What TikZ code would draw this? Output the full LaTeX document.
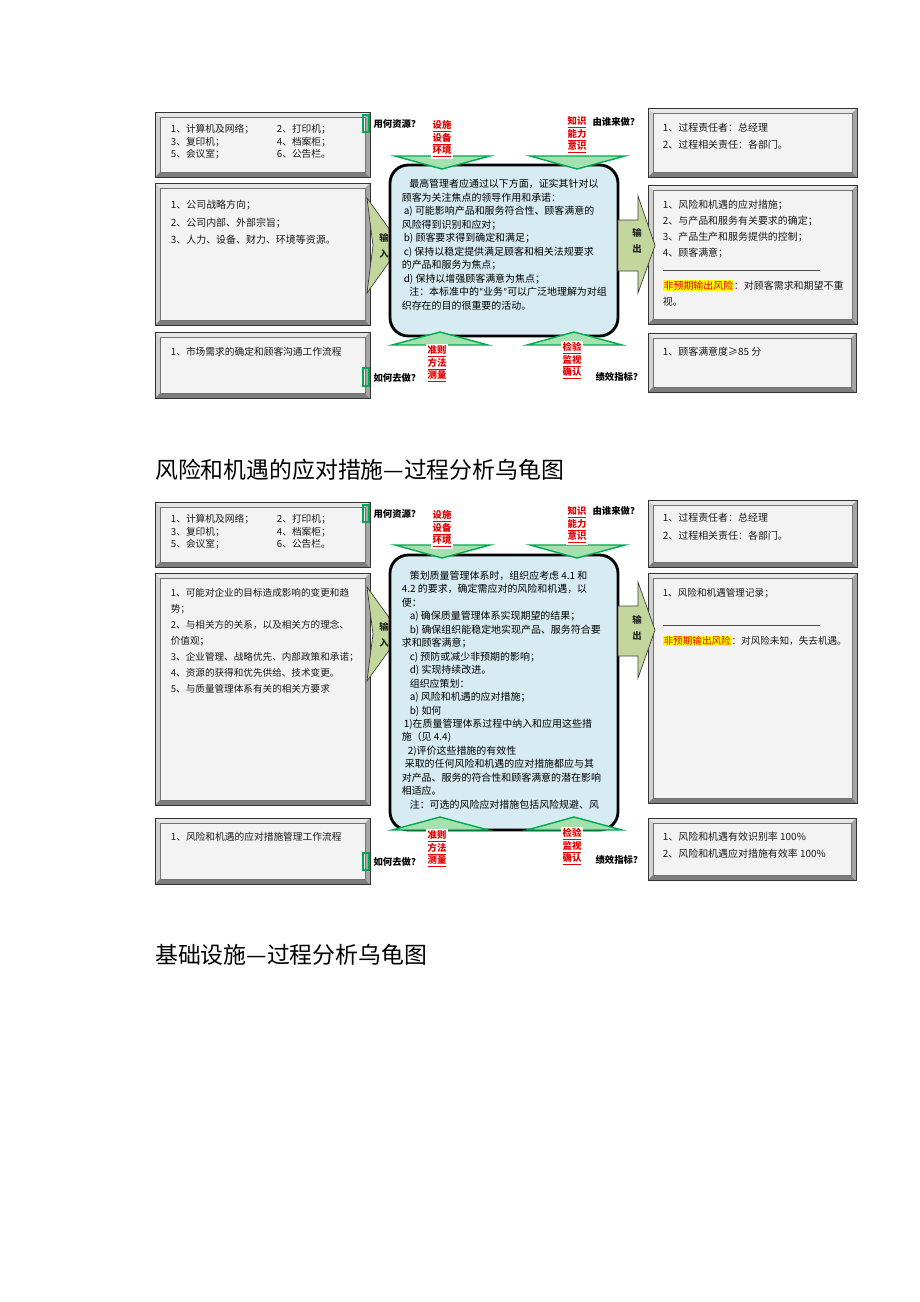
\documentclass[tikz,border=0pt]{standalone}
\usepackage{fontspec}
\setmainfont{Noto Sans CJK SC}
\newfontfamily\quotefont{Carlito}
\usetikzlibrary{positioning}
\usetikzlibrary{calc}

\definecolor{panelfill}{RGB}{243,243,243}
\definecolor{bevtop}{RGB}{230,230,230}
\definecolor{bevleft}{RGB}{208,208,208}
\definecolor{bevright}{RGB}{165,165,165}
\definecolor{bevbottom}{RGB}{125,125,125}
\definecolor{procfill}{RGB}{214,235,242}
\definecolor{ioarrow}{RGB}{195,214,155}
\definecolor{triline}{RGB}{0,170,80}
\definecolor{trifill}{RGB}{165,225,175}
\definecolor{labelred}{RGB}{230,0,0}
\definecolor{markyellow}{RGB}{255,255,0}

\newcommand{\riskmark}[1]{{\setlength{\fboxsep}{0.6pt}\colorbox{markyellow}{\textcolor{labelred}{#1}}}}

\begin{document}
\begin{tikzpicture}
	[x=0.03cm,y=-0.03cm,
	panel/.style={draw=black!80,fill=panelfill,line width=0.6pt,inner sep=0pt,
		path picture={
			\fill[bevtop] (path picture bounding box.north west) -- (path picture bounding box.north east)
				-- ([shift={(-0.15cm,-0.15cm)}]path picture bounding box.north east)
				-- ([shift={(0.15cm,-0.15cm)}]path picture bounding box.north west) -- cycle;
			\fill[bevleft] (path picture bounding box.north west) -- (path picture bounding box.south west)
				-- ([shift={(0.15cm,0.15cm)}]path picture bounding box.south west)
				-- ([shift={(0.15cm,-0.15cm)}]path picture bounding box.north west) -- cycle;
			\fill[bevbottom] (path picture bounding box.south west) -- (path picture bounding box.south east)
				-- ([shift={(-0.15cm,0.15cm)}]path picture bounding box.south east)
				-- ([shift={(0.15cm,0.15cm)}]path picture bounding box.south west) -- cycle;
			\fill[bevright] (path picture bounding box.north east) -- (path picture bounding box.south east)
				-- ([shift={(-0.15cm,0.15cm)}]path picture bounding box.south east)
				-- ([shift={(-0.15cm,-0.15cm)}]path picture bounding box.north east) -- cycle;
			\draw[black!55,line width=0.4pt] ([shift={(0.15cm,0.15cm)}]path picture bounding box.south west)
				rectangle ([shift={(-0.15cm,-0.15cm)}]path picture bounding box.north east);
		}},
	process/.style={draw=black,line width=2.4pt,fill=procfill,rounded corners=0.55cm,inner sep=0pt},
	ioshape/.style={draw=black!75,line width=0.6pt,fill=ioarrow},
	iotext/.style={font=\fontsize{8}{14}\selectfont\bfseries,align=center,inner sep=0pt,text=black!85},
	wedge/.style={draw=triline,line width=1.2pt,fill=trifill},
	factor/.style={font=\fontsize{8}{10.7}\selectfont\bfseries,text=labelred,align=center,fill=white,inner sep=1.5pt},
	question/.style={font=\fontsize{8}{10}\selectfont\bfseries,inner sep=1pt},
	bracket/.style={draw=triline,line width=1pt},
	paneltext/.style={anchor=north west,inner sep=0pt,align=left,text=black!90},
	proctext/.style={anchor=north west,inner sep=0pt,align=left,font=\fontsize{8.5}{11.5}\selectfont},
	heading/.style={anchor=west,inner sep=0pt,font=\fontsize{19.5}{22}\selectfont}]

	\useasboundingbox[fill=white] (0,0) rectangle (920,1302);

	% Draw the panels of the first chart
	\draw node at (262.5,144.5) [panel,minimum width=6.45cm,minimum height=1.95cm](res1){}
		node at (262.5,254) [panel,minimum width=6.45cm,minimum height=4.26cm](in1){}
		node at (262.5,365) [panel,minimum width=6.45cm,minimum height=1.98cm](how1){}
		node at (752.5,142.5) [panel,minimum width=6.27cm,minimum height=2.07cm](who1){}
		node at (752.5,254.5) [panel,minimum width=6.27cm,minimum height=4.17cm](out1){}
		node at (752,362.5) [panel,minimum width=6.24cm,minimum height=1.77cm](kpi1){};

	% Texts in the panels
	\draw node at ($(res1.north west)+(16,12.5)$) [paneltext,font=\fontsize{8.3}{10.7}\selectfont](res1a){1、计算机及网络；\\3、复印机；\\5、会议室；}
		node at ($(res1.north west)+(122,12.5)$) [paneltext,font=\fontsize{8.3}{10.7}\selectfont](res1b){2、打印机；\\4、档案柜；\\6、公告栏。}
		node at ($(in1.north west)+(16,17.5)$) [paneltext,font=\fontsize{8.5}{14.9}\selectfont](in1t){1、公司战略方向；\\2、公司内部、外部宗旨；\\3、人力、设备、财力、环境等资源。}
		node at ($(how1.north west)+(16,15.5)$) [paneltext,font=\fontsize{8.3}{13.7}\selectfont](how1t){1、市场需求的确定和顾客沟通工作流程}
		node at ($(who1.north west)+(15,15)$) [paneltext,font=\fontsize{8.5}{14.9}\selectfont](who1t){1、过程责任者：总经理\\2、过程相关责任：各部门。}
		node at ($(out1.north west)+(15,15.5)$) [paneltext,font=\fontsize{8.5}{13.7}\selectfont](out1t){1、风险和机遇的应对措施；\\2、与产品和服务有关要求的确定；\\3、产品生产和服务提供的控制；\\4、顾客满意；\\\textcolor{black!70}{\rule[2.5pt]{4.71cm}{0.4pt}}\\\riskmark{非预期输出风险}\textcolor{labelred}{：}对顾客需求和期望不重\\视。}
		node at ($(kpi1.north west)+(15,14.5)$) [paneltext,font=\fontsize{8.5}{13.7}\selectfont](kpi1t){1、顾客满意度≥85 分};

	% Draw the input arrow, the process and the output arrow
	\draw[ioshape] (367,198) -- (401,245.5) -- (367,293) -- (373,245.5) -- cycle;
	\draw node at (504,250.5) [process,minimum width=6.84cm,minimum height=5.13cm](proc1){};
	\draw node at ($(proc1.north west)+(13,15.5)$) [proctext](aim1){\hspace*{0.75em}最高管理者应通过以下方面，证实其针对以\\
顾客为关注焦点的领导作用和承诺：\\
\hspace*{0.2em}a) 可能影响产品和服务符合性、顾客满意的\\
风险得到识别和应对；\\
\hspace*{0.2em}b) 顾客要求得到确定和满足；\\
\hspace*{0.2em}c) 保持以稳定提供满足顾客和相关法规要求\\
的产品和服务为焦点；\\
\hspace*{0.2em}d) 保持以增强顾客满意为焦点；\\
\hspace*{0.75em}注：本标准中的{\quotefont “}业务{\quotefont ”}可以广泛地理解为对组\\
织存在的目的很重要的活动。};
	\draw[ioshape] (618,220) -- (638,220) -- (638,196) -- (655,245.5) -- (638,293) -- (638,271) -- (618,271) -- cycle;
	\draw node at (384,246) [iotext](in1arrow){输\\入}
		node at (637,241) [iotext](out1arrow){输\\出};

	% Draw the wedges and their labels
	\draw[wedge] (395,156) -- (490,156) -- (442,169) -- cycle;
	\draw[wedge] (530,156) -- (625,156) -- (577,169) -- cycle;
	\draw[wedge] (392,345) -- (488,345) -- (440,332) -- cycle;
	\draw[wedge] (527,345) -- (622,345) -- (574,332) -- cycle;
	\draw node at (442,139) [factor](fac1){\underline{设施}\\\underline{设备}\\\underline{环境}}
		node at (577,135) [factor](skill1){\underline{知识}\\\underline{能力}\\\underline{意识}}
		node at (437,364) [factor](meth1){\underline{准则}\\\underline{方法}\\\underline{测量}}
		node at (572,361) [factor](check1){\underline{检验}\\\underline{监视}\\\underline{确认}};
	\draw node at (397,124) [question](ask1a){用何资源？}
		node at (616,122) [question](ask1b){由谁来做？}
		node at (397,378) [question](ask1c){如何去做？}
		node at (619,377) [question](ask1d){绩效指标？};
	\draw[bracket] (363,115) rectangle (369,132);
	\draw[bracket] (363,368) rectangle (369,386);

	% Titles
	\draw node at (155,470) [heading](title1){风险和机遇的应对措施—过程分析乌龟图}
		node at (155,955) [heading](title2){基础设施—过程分析乌龟图};

	% Draw the panels of the second chart
	\draw node at (262.5,534.5) [panel,minimum width=6.45cm,minimum height=1.95cm](res2){}
		node at (262.5,689) [panel,minimum width=6.45cm,minimum height=6.96cm](in2){}
		node at (262.5,851) [panel,minimum width=6.45cm,minimum height=1.98cm](how2){}
		node at (752.5,533.5) [panel,minimum width=6.27cm,minimum height=2.01cm](who2){}
		node at (752.5,688) [panel,minimum width=6.27cm,minimum height=6.9cm](out2){}
		node at (752,849) [panel,minimum width=6.24cm,minimum height=1.86cm](kpi2){};

	% Texts in the panels
	\draw node at ($(res2.north west)+(16,12.5)$) [paneltext,font=\fontsize{8.3}{10.7}\selectfont](res2a){1、计算机及网络；\\3、复印机；\\5、会议室；}
		node at ($(res2.north west)+(122,12.5)$) [paneltext,font=\fontsize{8.3}{10.7}\selectfont](res2b){2、打印机；\\4、档案柜；\\6、公告栏。}
		node at ($(in2.north west)+(16,15.5)$) [paneltext,font=\fontsize{8.2}{13.7}\selectfont](in2t){1、可能对企业的目标造成影响的变更和趋\\势；\\2、与相关方的关系，以及相关方的理念、\\价值观；\\3、企业管理、战略优先、内部政策和承诺；\\4、资源的获得和优先供给、技术变更。\\5、与质量管理体系有关的相关方要求}
		node at ($(how2.north west)+(16,14.5)$) [paneltext,font=\fontsize{8.3}{13.7}\selectfont](how2t){1、风险和机遇的应对措施管理工作流程}
		node at ($(who2.north west)+(15,13.5)$) [paneltext,font=\fontsize{8.5}{14.9}\selectfont](who2t){1、过程责任者：总经理\\2、过程相关责任：各部门。}
		node at ($(out2.north west)+(15,15.5)$) [paneltext,font=\fontsize{8.2}{13.7}\selectfont](out2t){1、风险和机遇管理记录；\\\mbox{}\\\textcolor{black!70}{\rule[2.5pt]{4.71cm}{0.4pt}}\\\riskmark{非预期输出风险}\textcolor{labelred}{：}对风险未知，失去机遇。}
		node at ($(kpi2.north west)+(15,14.5)$) [paneltext,font=\fontsize{8.5}{14.5}\selectfont](kpi2t){1、风险和机遇有效识别率 100\%\\2、风险和机遇应对措施有效率 100\%};

	% Draw the input arrow, the process and the output arrow
	\draw[ioshape] (367,587) -- (401,634) -- (367,681) -- (373,634) -- cycle;
	\draw node at (504,692.5) [process,minimum width=6.84cm,minimum height=8.25cm](proc2){};
	\draw node at ($(proc2.north west)+(13,17)$) [proctext](aim2){\hspace*{0.8em}策划质量管理体系时，组织应考虑 4.1 和\\
4.2 的要求，确定需应对的风险和机遇，以\\
便：\\
\hspace*{0.8em}a) 确保质量管理体系实现期望的结果；\\
\hspace*{0.8em}b) 确保组织能稳定地实现产品、服务符合要\\
求和顾客满意；\\
\hspace*{0.8em}c) 预防或减少非预期的影响；\\
\hspace*{0.8em}d) 实现持续改进。\\
\hspace*{0.8em}组织应策划：\\
\hspace*{0.8em}a) 风险和机遇的应对措施；\\
\hspace*{0.8em}b) 如何\\
\hspace*{0.2em}1)在质量管理体系过程中纳入和应用这些措\\
施（见 4.4)\\
\hspace*{0.6em}2)评价这些措施的有效性\\
\hspace*{0.3em}采取的任何风险和机遇的应对措施都应与其\\
对产品、服务的符合性和顾客满意的潜在影响\\
相适应。\\
\hspace*{0.8em}注：可选的风险应对措施包括风险规避、风};
	\draw[ioshape] (618,606) -- (638,606) -- (638,582) -- (655,630) -- (638,678) -- (638,656) -- (618,656) -- cycle;
	\draw node at (384,635) [iotext](in2arrow){输\\入}
		node at (637,628) [iotext](out2arrow){输\\出};

	% Draw the wedges and their labels
	\draw[wedge] (395,545) -- (490,545) -- (442,558) -- cycle;
	\draw[wedge] (530,545) -- (625,545) -- (577,558) -- cycle;
	\draw[wedge] (392,830) -- (488,830) -- (440,817) -- cycle;
	\draw[wedge] (527,830) -- (622,830) -- (574,817) -- cycle;
	\draw node at (442,529) [factor](fac2){\underline{设施}\\\underline{设备}\\\underline{环境}}
		node at (577,525) [factor](skill2){\underline{知识}\\\underline{能力}\\\underline{意识}}
		node at (437,849) [factor](meth2){\underline{准则}\\\underline{方法}\\\underline{测量}}
		node at (572,847) [factor](check2){\underline{检验}\\\underline{监视}\\\underline{确认}};
	\draw node at (397,514) [question](ask2a){用何资源？}
		node at (616,511) [question](ask2b){由谁来做？}
		node at (397,862) [question](ask2c){如何去做？}
		node at (619,860) [question](ask2d){绩效指标？};
	\draw[bracket] (363,505) rectangle (369,522);
	\draw[bracket] (363,853) rectangle (369,870);
\end{tikzpicture}
\end{document}
